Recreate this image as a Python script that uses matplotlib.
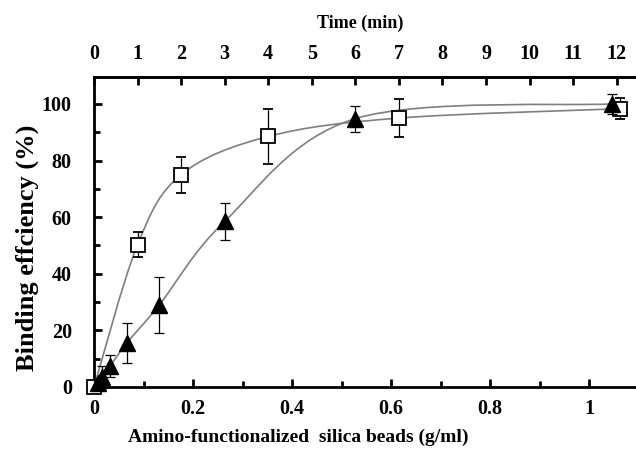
import numpy as np
import matplotlib
matplotlib.use("Agg")
import matplotlib.pyplot as plt
from matplotlib.path import Path
from matplotlib.patches import PathPatch
from matplotlib.ticker import MultipleLocator

plt.rcParams['font.family'] = ['Liberation Serif', 'DejaVu Serif']
plt.rcParams['font.weight'] = 'bold'

# squares (open)
sq_x = [0.0, 0.088, 0.176, 0.352, 0.616, 1.063]
sq_y = [0.0, 50.3, 75.0, 88.5, 95.0, 98.3]
sq_err = [0.0, 4.4, 6.4, 9.8, 6.7, 3.7]

# triangles (filled)
tr_x = [0.0083, 0.0165, 0.033, 0.066, 0.132, 0.264, 0.528, 1.046]
tr_y = [1.5, 3.5, 7.5, 15.5, 29.0, 58.5, 94.8, 100.0]
tr_err = [1.5, 4.0, 3.8, 7.0, 10.0, 6.5, 4.6, 3.4]

min_per_gml = 0.088   # 1 min on the top axis = 0.088 g/ml
top_ticks = list(range(0, 13))


def smooth_path(x, y):
    # Excel-like smoothed line: Catmull-Rom as cubic Bezier segments
    pts = np.column_stack([x, y])
    p = np.vstack([pts[0], pts, pts[-1]])
    verts = [pts[0]]
    codes = [Path.MOVETO]
    for i in range(1, len(p) - 2):
        c1 = p[i] + (p[i + 1] - p[i - 1]) / 6
        c2 = p[i + 1] - (p[i + 2] - p[i]) / 6
        verts += [c1, c2, p[i + 1]]
        codes += [Path.CURVE4] * 3
    return Path(verts, codes)


fig = plt.figure(figsize=(6.36, 4.53), dpi=100)
ax = fig.add_axes([94 / 636, 66 / 453, 1.1 * 495 / 636, 310 / 453])

for xs, ys in [(sq_x, sq_y), (tr_x, tr_y)]:
    ax.add_patch(PathPatch(smooth_path(xs, ys), fill=False, edgecolor='#7f7f7f',
                           lw=1.2, zorder=2))

ax.errorbar(sq_x, sq_y, yerr=sq_err, fmt='s', mfc='white', mec='black', mew=1.3,
            ms=10, ecolor='black', elinewidth=0.9, capsize=3.5, capthick=0.9,
            zorder=3, clip_on=False)
ax.errorbar(tr_x, tr_y, yerr=tr_err, fmt='^', mfc='black', mec='black', ms=11,
            ecolor='black', elinewidth=0.9, capsize=3.5, capthick=0.9,
            zorder=4, clip_on=False)

ax.set_xlim(0, 1.1)
ax.set_ylim(0, 109.5)
ax.xaxis.set_minor_locator(MultipleLocator(0.1))
ax.yaxis.set_major_locator(MultipleLocator(20))
ax.yaxis.set_minor_locator(MultipleLocator(10))
ax.set_xticks([0, 0.2, 0.4, 0.6, 0.8, 1.0])
ax.set_xticklabels(['0', '0.2', '0.4', '0.6', '0.8', '1'])
ax.tick_params(which='major', direction='in', length=6, width=2, labelsize=14.5)
ax.tick_params(which='minor', direction='in', length=4, width=2)
ax.tick_params(axis='x', pad=9)
ax.tick_params(axis='y', pad=16)
ax.spines['right'].set_visible(False)
for s in ['left', 'bottom', 'top']:
    ax.spines[s].set_linewidth(2)

ax.set_xlabel('Amino-functionalized  silica beads (g/ml)', fontsize=14,
              fontweight='bold')
ax.xaxis.set_label_coords(0.375, -0.135)
ax.set_ylabel('Binding effciency (%)', fontsize=19, fontweight='bold')
ax.yaxis.set_label_coords(-0.101, 0.45)

top = ax.twiny()
top.set_xlim(0, 1.1 / min_per_gml)
top.set_xticks(top_ticks)
top.tick_params(direction='in', length=6, width=2, labelsize=14.5, pad=9.5)
top.spines['right'].set_visible(False)
top.spines['top'].set_linewidth(2)
top.set_xlabel('Time (min)', fontsize=13, fontweight='bold')
top.xaxis.set_label_coords(0.489, 1.158)

fig.savefig('out.png', dpi=100)
